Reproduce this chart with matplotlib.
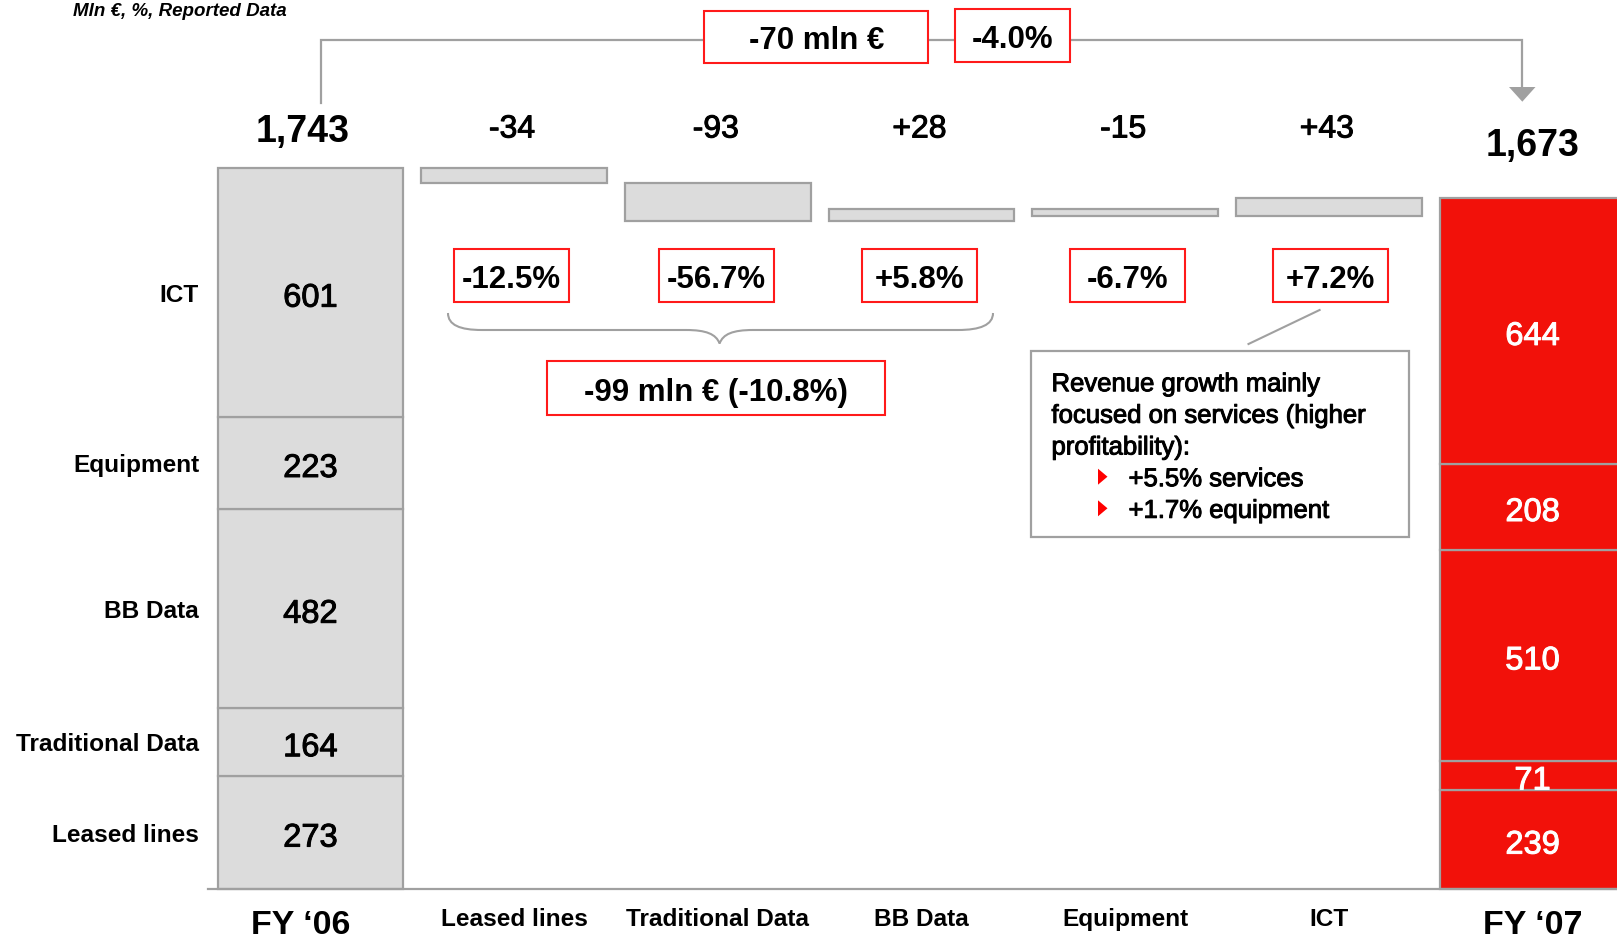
import matplotlib
matplotlib.use("Agg")
import matplotlib.pyplot as plt
import matplotlib.patheffects as pe
from matplotlib.patches import Rectangle, Polygon, PathPatch
from matplotlib.path import Path
from matplotlib.transforms import blended_transform_factory, offset_copy

plt.rcParams["font.family"] = ["Liberation Sans", "DejaVu Sans"]

# ---- data -------------------------------------------------------------
segments = ["Leased lines", "Traditional Data", "BB Data", "Equipment", "ICT"]
fy06_values = [273, 164, 482, 223, 601]
fy07_values = [239, 71, 510, 208, 644]
fy06_total_label = "1,743"
fy07_total_label = "1,673"

bridge_steps = ["Leased lines", "Traditional Data", "BB Data", "Equipment", "ICT"]
bridge_deltas = [-34, -93, 28, -15, 43]
bridge_growth = ["-12.5%", "-56.7%", "+5.8%", "-6.7%", "+7.2%"]

period_labels = ["FY \u201806", "FY \u201807"]
total_change = "-70 mln \u20ac"
total_change_pct = "-4.0%"
data_change = "-99 mln \u20ac (-10.8%)"
note_lines = ["Revenue growth mainly", "focused on services (higher", "profitability):"]
note_bullets = ["+5.5% services", "+1.7% equipment"]
unit_note = "Mln \u20ac, %, Reported Data"

# ---- style ------------------------------------------------------------
GREY_FILL = "#DCDCDC"
GREY_EDGE = "#A0A0A0"
RED = "#F2110A"
BOX_RED = "#FF1A1A"


def medium(color):
    """Slightly heavier stroke for the medium-weight figures."""
    return [pe.withStroke(linewidth=0.7, foreground=color)]


W, H = 1617, 941
fig = plt.figure(figsize=(W / 100, H / 100), dpi=100)

# value axes: categories on x, mln EUR on y
ax = fig.add_axes([0, 0, 1, 1])
ax.set_xlim(-1.5238, 6.4144)
ax.set_ylim(-125.8, 2150.5)
ax.axis("off")

# overlay in pixel units for the annotation furniture
ov = fig.add_axes([0, 0, 1, 1], zorder=5)
ov.set_xlim(0, W)
ov.set_ylim(H, 0)
ov.axis("off")

x_data_y_px = blended_transform_factory(ax.transData, ov.transData)
x_px_y_data = blended_transform_factory(ov.transData, ax.transData)
seg_text = offset_copy(ax.transData, fig=fig, x=0, y=-2, units="dots")

BAR_W = 0.912

# FY'06 stacked column
bottom = 0
for name, v in zip(segments, fy06_values):
    ax.bar(0, v, bottom=bottom, width=BAR_W, color=GREY_FILL,
           edgecolor=GREY_EDGE, linewidth=1.6, zorder=2)
    ax.text(0, bottom + v / 2, f"{v}", transform=seg_text, ha="center",
            va="center_baseline", fontsize=23.5, color="black", zorder=3,
            path_effects=medium("black"))
    ax.text(199, bottom + v / 2, name, transform=x_px_y_data, ha="right",
            va="center_baseline", fontsize=17.6, fontweight="bold", zorder=3)
    bottom += v
fy06_total = bottom

# bridge steps
level = fy06_total
for i, (step, d) in enumerate(zip(bridge_steps, bridge_deltas), start=1):
    lo = min(level, level + d)
    ax.bar(i, abs(d), bottom=lo, width=BAR_W, color=GREY_FILL,
           edgecolor=GREY_EDGE, linewidth=1.6, zorder=2)
    ax.text(i - 0.01, 126, f"{d:+d}", transform=x_data_y_px, ha="center",
            va="center_baseline", fontsize=23, zorder=6,
            path_effects=medium("black"))
    ax.text(i, 917, step, transform=x_data_y_px, ha="center",
            va="center_baseline", fontsize=17.6, fontweight="bold", zorder=6)
    level += d

# FY'07 stacked column
bottom = 0
for v in fy07_values:
    ax.bar(6, v, bottom=bottom, width=BAR_W, color=RED,
           edgecolor=GREY_EDGE, linewidth=1.6, zorder=2)
    ax.text(6, bottom + v / 2, f"{v}", transform=seg_text, ha="center",
            va="center_baseline", fontsize=23.5, color="white", zorder=3,
            path_effects=medium("white"))
    bottom += v

# totals and period labels
ax.text(-0.04, 128, fy06_total_label, transform=x_data_y_px, ha="center",
        va="center_baseline", fontsize=27, fontweight="bold", zorder=6)
ax.text(6, 142, fy07_total_label, transform=x_data_y_px, ha="center",
        va="center_baseline", fontsize=27, fontweight="bold", zorder=6)
ax.text(-0.05, 922, period_labels[0], transform=x_data_y_px, ha="center",
        va="center_baseline", fontsize=24.5, fontweight="bold", zorder=6)
ax.text(6, 922, period_labels[1], transform=x_data_y_px, ha="center",
        va="center_baseline", fontsize=24.5, fontweight="bold", zorder=6)

# baseline
ov.plot([208, W], [889, 889], color=GREY_EDGE, lw=1.6, zorder=1)

# unit note
ov.text(72.5, 16, unit_note, ha="left", va="baseline", fontsize=13.5,
        fontweight="bold", fontstyle="italic")

# overall change connector with arrow
ov.plot([320.5, 320.5, 1522.3, 1522.3], [103, 40, 40, 88],
        color=GREY_EDGE, lw=1.6, solid_joinstyle="miter")
ov.add_patch(Polygon([(1509, 87), (1535.5, 87), (1522.3, 101.7)], closed=True,
                     facecolor=GREY_EDGE, edgecolor="none"))


def red_box(x0, y0, x1, y1, text, size=22.5):
    ov.add_patch(Rectangle((x0, y0), x1 - x0, y1 - y0, facecolor="white",
                           edgecolor=BOX_RED, lw=1.5, zorder=6))
    ov.text((x0 + x1) / 2, (y0 + y1) / 2 + 1, text, ha="center",
            va="center_baseline", fontsize=size, fontweight="bold", zorder=7)


red_box(704.3, 10.7, 928.3, 62.7, total_change)
red_box(955, 9.3, 1070, 61.7, total_change_pct)

# growth boxes below each step
box_centres = [511.2, 716, 919.4, 1127.7, 1330.4]
for cx, g in zip(box_centres, bridge_growth):
    red_box(cx - 57.5, 248.7, cx + 57.5, 301.7, g)

# brace grouping the data steps
verts = [(448, 313), (448, 325), (460, 330), (482, 330),
         (686, 330),
         (706, 330), (716, 334), (719.6, 343.5),
         (723, 334), (733, 330), (753, 330),
         (958, 330),
         (980, 330), (993, 325), (993, 313)]
codes = [Path.MOVETO, Path.CURVE4, Path.CURVE4, Path.CURVE4,
         Path.LINETO,
         Path.CURVE4, Path.CURVE4, Path.CURVE4,
         Path.CURVE4, Path.CURVE4, Path.CURVE4,
         Path.LINETO,
         Path.CURVE4, Path.CURVE4, Path.CURVE4]
ov.add_patch(PathPatch(Path(verts, codes), facecolor="none",
                       edgecolor=GREY_EDGE, lw=1.5))
red_box(547, 361, 885, 415, data_change)

# ICT commentary
ov.plot([1319.6, 1248.5], [310, 344], color=GREY_EDGE, lw=1.5)
ov.add_patch(Rectangle((1030.7, 351), 1409.3 - 1030.7, 536.7 - 351,
                       facecolor="white", edgecolor=GREY_EDGE, lw=1.6, zorder=4))
line_y = [381.7, 413.3, 445.0]
for y, t in zip(line_y, note_lines):
    ov.text(1051.5, y, t, ha="left", va="center_baseline", fontsize=18.5,
            zorder=6, path_effects=medium("black"))
for y, t in zip([476.7, 508.3], note_bullets):
    ov.add_patch(Polygon([(1098, y - 8), (1098, y + 8), (1107.5, y)], closed=True,
                         facecolor="#FF0000", edgecolor="none", zorder=6))
    ov.text(1128.5, y, t, ha="left", va="center_baseline", fontsize=18.5,
            zorder=6, path_effects=medium("black"))

fig.savefig("out.png", dpi=100, facecolor="white")
